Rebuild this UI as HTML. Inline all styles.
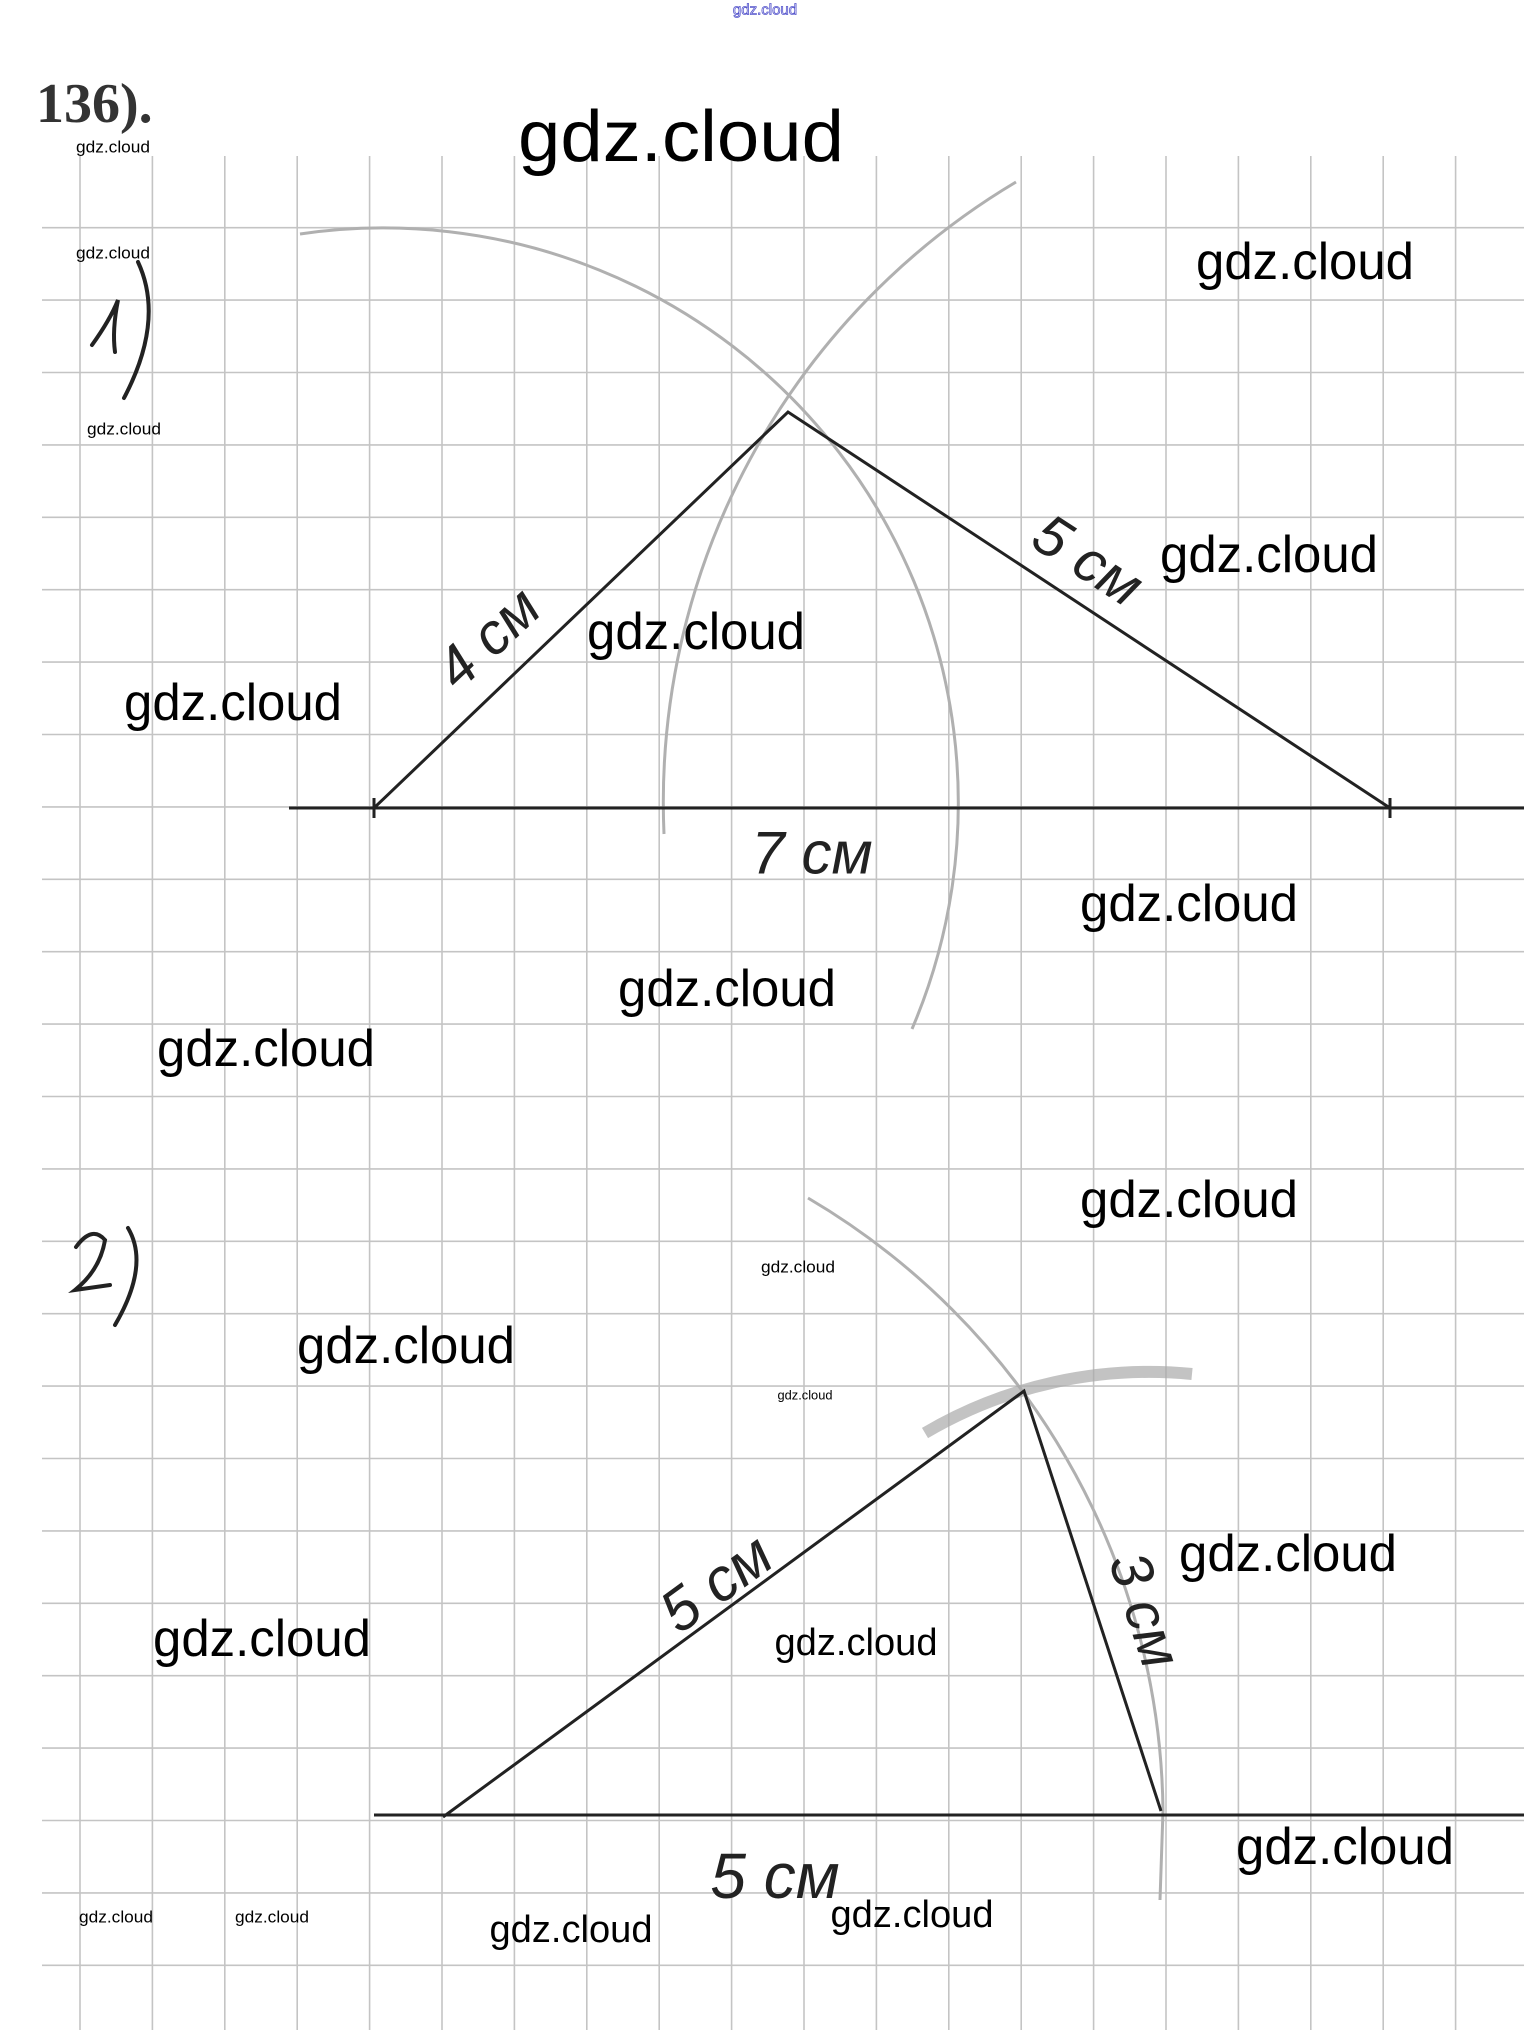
<!DOCTYPE html>
<html><head><meta charset="utf-8"><style>
html,body{margin:0;padding:0;background:#fff}
svg{display:block}
.w{font-family:"Liberation Sans Narrow","Liberation Sans",sans-serif;fill:#000;text-anchor:middle;dominant-baseline:central}
.h{font-family:"Liberation Sans",sans-serif;font-style:italic;fill:#222;text-anchor:middle;dominant-baseline:central}
</style></head><body>
<svg width="1524" height="2036" viewBox="0 0 1524 2036" xmlns="http://www.w3.org/2000/svg">
<rect width="1524" height="2036" fill="#fff"/>
<g stroke="#c4c4c4" stroke-width="1.6">
<line x1="80" y1="156" x2="80" y2="2030"/><line x1="152.4" y1="156" x2="152.4" y2="2030"/>
<line x1="224.8" y1="156" x2="224.8" y2="2030"/><line x1="297.2" y1="156" x2="297.2" y2="2030"/>
<line x1="369.6" y1="156" x2="369.6" y2="2030"/><line x1="442" y1="156" x2="442" y2="2030"/>
<line x1="514.4" y1="156" x2="514.4" y2="2030"/><line x1="586.8" y1="156" x2="586.8" y2="2030"/>
<line x1="659.2" y1="156" x2="659.2" y2="2030"/><line x1="731.6" y1="156" x2="731.6" y2="2030"/>
<line x1="804" y1="156" x2="804" y2="2030"/><line x1="876.4" y1="156" x2="876.4" y2="2030"/>
<line x1="948.8" y1="156" x2="948.8" y2="2030"/><line x1="1021.2" y1="156" x2="1021.2" y2="2030"/>
<line x1="1093.6" y1="156" x2="1093.6" y2="2030"/><line x1="1166" y1="156" x2="1166" y2="2030"/>
<line x1="1238.4" y1="156" x2="1238.4" y2="2030"/><line x1="1310.8" y1="156" x2="1310.8" y2="2030"/>
<line x1="1383.2" y1="156" x2="1383.2" y2="2030"/><line x1="1455.6" y1="156" x2="1455.6" y2="2030"/>
</g>
<g stroke="#c4c4c4" stroke-width="1.6">
<line x1="42" y1="227.7" x2="1524" y2="227.7"/><line x1="42" y1="300.1" x2="1524" y2="300.1"/>
<line x1="42" y1="372.5" x2="1524" y2="372.5"/><line x1="42" y1="444.9" x2="1524" y2="444.9"/>
<line x1="42" y1="517.3" x2="1524" y2="517.3"/><line x1="42" y1="589.7" x2="1524" y2="589.7"/>
<line x1="42" y1="662.1" x2="1524" y2="662.1"/><line x1="42" y1="734.5" x2="1524" y2="734.5"/>
<line x1="42" y1="806.9" x2="1524" y2="806.9"/><line x1="42" y1="879.3" x2="1524" y2="879.3"/>
<line x1="42" y1="951.7" x2="1524" y2="951.7"/><line x1="42" y1="1024.1" x2="1524" y2="1024.1"/>
<line x1="42" y1="1096.5" x2="1524" y2="1096.5"/><line x1="42" y1="1168.9" x2="1524" y2="1168.9"/>
<line x1="42" y1="1241.3" x2="1524" y2="1241.3"/><line x1="42" y1="1313.7" x2="1524" y2="1313.7"/>
<line x1="42" y1="1386.1" x2="1524" y2="1386.1"/><line x1="42" y1="1458.5" x2="1524" y2="1458.5"/>
<line x1="42" y1="1530.9" x2="1524" y2="1530.9"/><line x1="42" y1="1603.3" x2="1524" y2="1603.3"/>
<line x1="42" y1="1675.7" x2="1524" y2="1675.7"/><line x1="42" y1="1748.1" x2="1524" y2="1748.1"/>
<line x1="42" y1="1820.5" x2="1524" y2="1820.5"/><line x1="42" y1="1892.9" x2="1524" y2="1892.9"/>
<line x1="42" y1="1965.3" x2="1524" y2="1965.3"/>
</g>
<!-- arcs -->
<g fill="none" stroke="#b0b0b0" stroke-width="3">
<path d="M 300 234 A 575 575 0 0 1 912 1029"/>
<path d="M 664 834 A 722 722 0 0 1 1016 182"/>
<path d="M 808 1198 A 720 720 0 0 1 1163 1811 L 1160 1900"/>
</g>
<path d="M 925 1433 A 442 442 0 0 1 1192 1374" fill="none" stroke="#aaa" stroke-width="12" opacity="0.7"/>
<!-- triangles -->
<g fill="none" stroke="#222" stroke-width="3">
<line x1="289" y1="808" x2="1524" y2="808"/>
<polyline points="374,808 788,412 1390,808"/>
<line x1="374" y1="798" x2="374" y2="818"/><line x1="1390" y1="798" x2="1390" y2="818"/>
<line x1="374" y1="1815" x2="1524" y2="1815"/>
<polyline points="443,1817 1024,1391 1161,1811"/>
</g>
<!-- handwritten labels -->
<text class="h" font-size="58" transform="translate(488,638) rotate(-43)">4 см</text>
<text class="h" font-size="58" transform="translate(1088,560) rotate(33)">5 см</text>
<text class="h" font-size="60" x="812" y="853">7 см</text>
<text class="h" font-size="60" transform="translate(716,1583) rotate(-36)">5 см</text>
<text class="h" font-size="58" transform="translate(1145,1610) rotate(72)">3 см</text>
<text class="h" font-size="64" x="775" y="1876">5 см</text>
<!-- 1) 2) -->
<g fill="none" stroke="#222" stroke-width="4" stroke-linecap="round">
<path d="M 92 345 Q 110 320 118 300 Q 112 330 115 352"/>
<path d="M 138 262 Q 165 320 124 398"/>
<path d="M 76 1247 Q 92 1225 105 1240 Q 100 1270 75 1290 L 110 1285"/>
<path d="M 128 1228 Q 150 1265 115 1325"/>
</g>
<text x="36" y="122" font-family="Liberation Serif,serif" font-weight="bold" font-size="56" fill="#333">136).</text>
<text x="765" y="10" font-family="Liberation Sans,sans-serif" font-size="15" fill="#fff" stroke="#55c" stroke-width="0.8" text-anchor="middle" dominant-baseline="central">gdz.cloud</text>
<!-- watermarks -->
<text class="w" x="681" y="137" font-size="72" textLength="326" lengthAdjust="spacingAndGlyphs">gdz.cloud</text>
<text class="w" x="113" y="147" font-size="17" textLength="74" lengthAdjust="spacingAndGlyphs">gdz.cloud</text>
<text class="w" x="113" y="253" font-size="17" textLength="74" lengthAdjust="spacingAndGlyphs">gdz.cloud</text>
<text class="w" x="124" y="429" font-size="17" textLength="74" lengthAdjust="spacingAndGlyphs">gdz.cloud</text>
<text class="w" x="1305" y="262" font-size="52" textLength="218" lengthAdjust="spacingAndGlyphs">gdz.cloud</text>
<text class="w" x="1269" y="555" font-size="52" textLength="218" lengthAdjust="spacingAndGlyphs">gdz.cloud</text>
<text class="w" x="696" y="632" font-size="52" textLength="218" lengthAdjust="spacingAndGlyphs">gdz.cloud</text>
<text class="w" x="233" y="703" font-size="52" textLength="218" lengthAdjust="spacingAndGlyphs">gdz.cloud</text>
<text class="w" x="1189" y="904" font-size="52" textLength="218" lengthAdjust="spacingAndGlyphs">gdz.cloud</text>
<text class="w" x="727" y="989" font-size="52" textLength="218" lengthAdjust="spacingAndGlyphs">gdz.cloud</text>
<text class="w" x="266" y="1049" font-size="52" textLength="218" lengthAdjust="spacingAndGlyphs">gdz.cloud</text>
<text class="w" x="1189" y="1200" font-size="52" textLength="218" lengthAdjust="spacingAndGlyphs">gdz.cloud</text>
<text class="w" x="798" y="1267" font-size="17" textLength="74" lengthAdjust="spacingAndGlyphs">gdz.cloud</text>
<text class="w" x="406" y="1346" font-size="52" textLength="218" lengthAdjust="spacingAndGlyphs">gdz.cloud</text>
<text class="w" x="805" y="1395" font-size="13" textLength="55" lengthAdjust="spacingAndGlyphs">gdz.cloud</text>
<text class="w" x="1288" y="1554" font-size="52" textLength="218" lengthAdjust="spacingAndGlyphs">gdz.cloud</text>
<text class="w" x="262" y="1639" font-size="52" textLength="218" lengthAdjust="spacingAndGlyphs">gdz.cloud</text>
<text class="w" x="856" y="1643" font-size="38" textLength="163" lengthAdjust="spacingAndGlyphs">gdz.cloud</text>
<text class="w" x="1345" y="1847" font-size="52" textLength="218" lengthAdjust="spacingAndGlyphs">gdz.cloud</text>
<text class="w" x="116" y="1917" font-size="17" textLength="74" lengthAdjust="spacingAndGlyphs">gdz.cloud</text>
<text class="w" x="272" y="1917" font-size="17" textLength="74" lengthAdjust="spacingAndGlyphs">gdz.cloud</text>
<text class="w" x="571" y="1930" font-size="38" textLength="163" lengthAdjust="spacingAndGlyphs">gdz.cloud</text>
<text class="w" x="912" y="1915" font-size="38" textLength="163" lengthAdjust="spacingAndGlyphs">gdz.cloud</text>
</svg>
</body></html>
